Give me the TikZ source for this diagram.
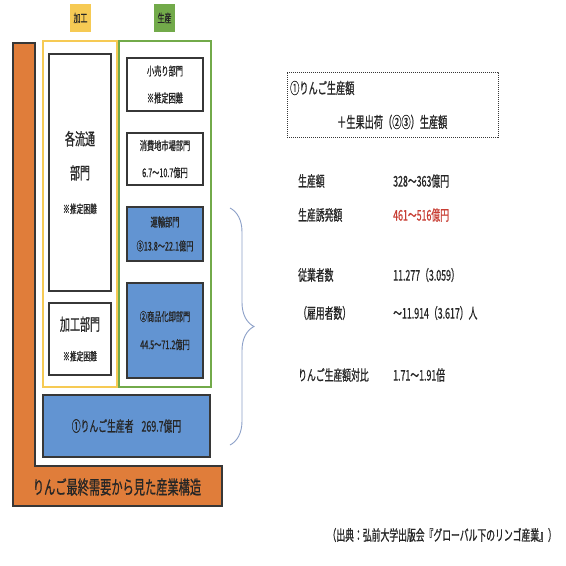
\documentclass[tikz,border=0pt]{standalone}
\usepackage{fontspec}
\setmainfont[FakeStretch=0.6, FakeBold=0.7]{Noto Sans CJK JP}
\usepackage{xcolor}
\usepackage{tikz}
\usetikzlibrary{positioning,decorations.pathreplacing}
\definecolor{appleorange}{RGB}{224,125,58}
\definecolor{procyellow}{RGB}{246,202,84}
\definecolor{prodgreen}{RGB}{114,170,74}
\definecolor{segblue}{RGB}{98,148,210}
\definecolor{segline}{RGB}{55,55,55}
\definecolor{bracegray}{RGB}{140,160,200}
\definecolor{inkgray}{RGB}{38,38,38}
\definecolor{valred}{RGB}{200,62,52}

\begin{document}
\begin{tikzpicture}[x=1pt, y=-1pt, text=inkgray,
		seg/.style={draw=segline, line width=2pt, fill=white, align=center, inner sep=0pt, font=\fontsize{12}{27}\selectfont},
		bseg/.style={seg, fill=segblue},
		frame/.style={line width=2.2pt, inner sep=0pt},
		tag/.style={inner sep=0pt, minimum width=21pt, minimum height=28pt, font=\fontsize{11.5}{11.5}\selectfont},
		stat/.style={anchor=west, inner sep=0pt, font=\fontsize{14.7}{14.7}\selectfont}]
		\fill[white] (0,0) rectangle (566,566);
		\useasboundingbox (0,0) rectangle (566,566);
		\draw[fill=appleorange, draw=segline, line width=1.5pt] (13,43) -- (35,43) -- (35,466) -- (222,466) -- (222,506) -- (13,506) -- cycle;
		\node[font=\fontsize{18.7}{18.7}\selectfont] (title) at (117,487) {りんご最終需要から見た産業構造};
		\node[tag, fill=procyellow] (proctag) at (80.5,18) {加工};
		\node[tag, fill=prodgreen] (prodtag) at (164.5,18) {生産};
		\node[frame, draw=procyellow, minimum width=74pt, minimum height=346pt] (procframe) at (80,214) {};
		\node[frame, draw=prodgreen, minimum width=92pt, minimum height=346pt] (prodframe) at (165,214) {};
		\node[seg, minimum width=62pt, minimum height=237pt, font=\fontsize{16.7}{34}\selectfont] (dist) at (80,172.5) {各流通\\部門\\\fontsize{11.3}{28}\selectfont ※推定困難};
		\node[seg, minimum width=62pt, minimum height=72pt, font=\fontsize{16.7}{30}\selectfont] (proc) at (80,339) {加工部門\\\fontsize{11.3}{30}\selectfont ※推定困難};
		\node[seg, minimum width=76pt, minimum height=53pt] (retail) at (165,84.5) {小売り部門\\※推定困難};
		\node[seg, minimum width=76pt, minimum height=52pt] (market) at (165,159) {消費地市場部門\\6.7〜10.7億円};
		\node[bseg, minimum width=76pt, minimum height=54pt, font=\fontsize{12}{24}\selectfont] (transport) at (165,234) {運輸部門\\③13.8〜22.1億円};
		\node[bseg, minimum width=76pt, minimum height=95pt, font=\fontsize{12}{28}\selectfont] (wholesale) at (165,330.5) {②商品化卸部門\\44.5〜71.2億円};
		\node[bseg, minimum width=167pt, minimum height=62pt, font=\fontsize{14.7}{14.7}\selectfont] (grower) at (126.5,426) {①りんご生産者\hspace{8pt}269.7億円};
		\coordinate (bracetop) at (230,208);
		\coordinate (bracebottom) at (230,445);
		\draw[bracegray, line width=0.9pt, decorate, decoration={brace, amplitude=24pt}] (bracetop) -- (bracebottom);
		\node[draw=segline, dash pattern=on 1.2pt off 0.8pt, line width=0.8pt, minimum width=211pt, minimum height=65pt, inner sep=0pt] (sumbox) at (392.5,104.5) {};
		\node[stat, font=\fontsize{15.3}{15.3}\selectfont] (sumfirst) at (290,88) {①りんご生産額};
		\node[stat, font=\fontsize{15.3}{15.3}\selectfont] (sumsecond) at (337,122) {＋生果出荷（②③）生産額};
		\node[stat] (amtlabel) at (298,181) {生産額};
		\node[stat] (amtvalue) at (393,181) {328〜363億円};
		\node[stat] (indlabel) at (298,215) {生産誘発額};
		\node[stat, text=valred] (indvalue) at (393,215) {461〜516億円};
		\node[stat] (emplabel) at (298,275) {従業者数};
		\node[stat] (empvalue) at (393,275) {11.277（3.059）};
		\node[stat] (hirelabel) at (298,313) {（雇用者数）};
		\node[stat] (hirevalue) at (393,313) {〜11.914（3.617）人};
		\node[stat] (ratiolabel) at (298,375) {りんご生産額対比};
		\node[stat] (ratiovalue) at (393,375) {1.71〜1.91倍};
		\node[stat, anchor=east] (source) at (557,535) {（出典：弘前大学出版会『グローバル下のリンゴ産業』）};
	\end{tikzpicture}
\end{document}
